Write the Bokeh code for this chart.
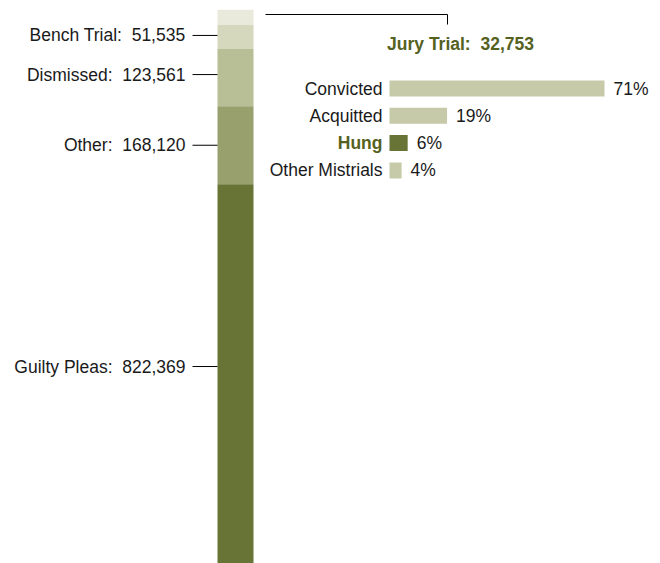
from bokeh.plotting import figure
from bokeh.models import Range1d, ColumnDataSource
from bokeh.core.properties import value
from bokeh.embed import file_html
from bokeh.resources import INLINE

# ---- data ----
segments = ["Jury Trial", "Bench Trial", "Dismissed", "Other", "Guilty Pleas"]
counts = [32753, 51535, 123561, 168120, 822369]
seg_colors = ["#e9eadc", "#d5d8bd", "#b8bf96", "#98a06d", "#677435"]

jury_outcomes = ["Convicted", "Acquitted", "Hung", "Other Mistrials"]
jury_pct = [71, 19, 6, 4]
outcome_colors = ["#c6caa9", "#c6caa9", "#677435", "#c6caa9"]
outcome_label_colors = ["#1a1a1a", "#1a1a1a", "#55611f", "#1a1a1a"]
outcome_label_styles = ["normal", "normal", "bold", "normal"]

# ---- layout (window pixel coordinates) ----
W, H = 660, 563
FONT = value("Liberation Sans")
FS = value("17.5px")
TXT = "#1a1a1a"
OLIVE = "#55611f"
SEP = ":\u00a0 "
label_nudge_px = [-1.5, -3, 0, -8.5]   # left label fine placement

bar_top_px, bar_len_px = 9.3, 556.0
bar_left, bar_right = 217, 253
pct_zero_px, pct_px = 389.0, 215.0 / 71.0
row0_y, row_step, row_h = 88.0, 27.3, 16

p = figure(width=W, height=H, output_backend="svg", toolbar_location=None,
           x_range=Range1d(0, W), y_range=Range1d(H, 0),
           min_border=0, outline_line_color=None)
p.axis.visible = False
p.grid.visible = False
p.background_fill_color = "white"
p.border_fill_color = "white"

total = sum(counts)
per_px = total / bar_len_px
p.extra_y_ranges = {"count": Range1d((H - bar_top_px) * per_px,
                                     (0 - bar_top_px) * per_px)}
p.extra_x_ranges = {"pct": Range1d((0 - pct_zero_px) / pct_px,
                                   (W - pct_zero_px) / pct_px)}

# stacked bar
tops, bottoms = [], []
acc = 0
for c in counts:
    tops.append(acc)
    acc += c
    bottoms.append(acc)
mids = [(t + b) / 2 for t, b in zip(tops, bottoms)]
src = ColumnDataSource(dict(top=tops, bottom=bottoms, color=seg_colors))
p.quad(left=bar_left, right=bar_right, top="top", bottom="bottom",
       fill_color="color", line_color=None, source=src, y_range_name="count")

# left labels (all but jury)
lab = [f"{s}{SEP}{c:,}" for s, c in zip(segments[1:], counts[1:])]
ly = [m + n * per_px for m, n in zip(mids[1:], label_nudge_px)]
lsrc = ColumnDataSource(dict(y=ly, t=lab))
p.text(x=185, y="y", text="t", source=lsrc, y_range_name="count",
       text_align="right", text_baseline="middle", text_font=FONT,
       text_font_size=FS, text_color=TXT)
p.segment(x0=192, x1=bar_left, y0="y", y1="y", source=lsrc,
          y_range_name="count", line_color="#000000", line_width=1)

# jury callout
p.line(x=[265, 447, 447], y=[14, 14, 24], line_color="#000000", line_width=1)
p.text(x=[460], y=[43], text=[f"{segments[0]}{SEP}{counts[0]:,}"],
       text_align="center", text_baseline="middle", text_font=FONT,
       text_font_size=FS, text_font_style="bold", text_color=OLIVE)

# jury outcome bars
ys = [row0_y + i * row_step for i in range(len(jury_outcomes))]
osrc = ColumnDataSource(dict(y=ys, pct=jury_pct, color=outcome_colors,
                             name=jury_outcomes, lc=outcome_label_colors,
                             ls=outcome_label_styles,
                             pl=[f"{v}%" for v in jury_pct]))
p.hbar(y="y", left=0, right="pct", height=row_h, fill_color="color",
       line_color=None, source=osrc, x_range_name="pct")
p.text(x=382, y="y", text="name", source=osrc, text_align="right",
       text_baseline="middle", text_font=FONT, text_font_size=FS,
       text_color="lc", text_font_style="ls")
p.text(x="pct", y="y", text="pl", source=osrc, x_range_name="pct",
       x_offset=9, text_align="left", text_baseline="middle",
       text_font=FONT, text_font_size=FS, text_color=TXT)

open("out.html", "w").write(file_html(p, INLINE))
